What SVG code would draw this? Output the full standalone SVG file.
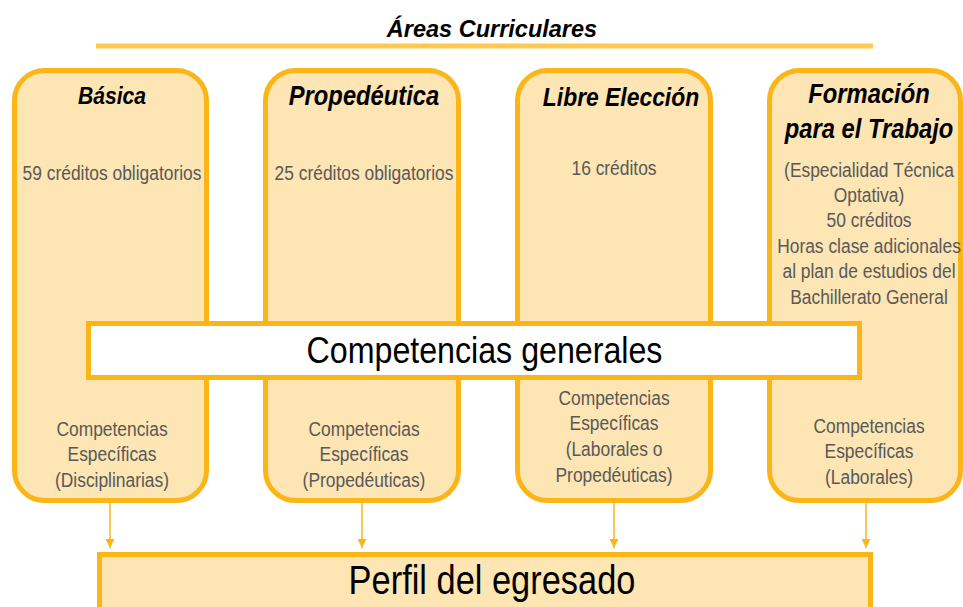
<svg xmlns="http://www.w3.org/2000/svg" width="963" height="607" viewBox="0 0 963 607">
<style>
.area{fill:#FDE5B4;stroke:#FCB517;stroke-width:5}
.gen{fill:#FFFFFF;stroke:#FCB517;stroke-width:5}
.head{font-family:"Liberation Sans",Arial,sans-serif;font-weight:bold;font-style:italic;fill:#000;text-anchor:middle}
.body{font-family:"Liberation Sans",Arial,sans-serif;font-size:20px;fill:#595959;text-anchor:middle}
.big{font-family:"Liberation Sans",Arial,sans-serif;fill:#000;text-anchor:middle}
.conn{stroke:#F9B51A;stroke-width:1.5;fill:none}
</style>
<defs>
<marker id="arr" viewBox="0 0 10 10" refX="10" refY="5" markerWidth="9" markerHeight="9" markerUnits="userSpaceOnUse" orient="auto">
<path d="M0,0 L10,5 L0,10 Z" fill="#F9B51A"/>
</marker>
</defs>
<g id="title">
<text class="head" x="492" y="37" font-size="23.5">Áreas Curriculares</text>
<line x1="96" y1="46" x2="873" y2="46" stroke="#FFC94F" stroke-width="5"/>
</g>
<g id="basica">
<rect class="area" x="14.5" y="70.5" width="192" height="430" rx="30"/>
<g transform="translate(112,0) scale(0.88,1)">
<text class="head" x="0" y="104" font-size="24">Básica</text>
</g>
<g transform="translate(112,0) scale(0.87,1)">
<text class="body" x="0" y="180">59 créditos obligatorios</text>
<text class="body" x="0" y="436">Competencias</text>
<text class="body" x="0" y="461">Específicas</text>
<text class="body" x="0" y="487">(Disciplinarias)</text>
</g>
</g>
<g id="propedeutica">
<rect class="area" x="265.5" y="70.5" width="193" height="430" rx="30"/>
<g transform="translate(364,0) scale(0.88,1)">
<text class="head" x="0" y="105" font-size="27">Propedéutica</text>
</g>
<g transform="translate(364,0) scale(0.87,1)">
<text class="body" x="0" y="180">25 créditos obligatorios</text>
<text class="body" x="0" y="436">Competencias</text>
<text class="body" x="0" y="461">Específicas</text>
<text class="body" x="0" y="487">(Propedéuticas)</text>
</g>
</g>
<g id="libre">
<rect class="area" x="517.5" y="70.5" width="193" height="430" rx="30"/>
<g transform="translate(621,0) scale(0.88,1)">
<text class="head" x="0" y="106" font-size="26">Libre Elección</text>
</g>
<g transform="translate(614,0) scale(0.87,1)">
<text class="body" x="0" y="175">16 créditos</text>
<text class="body" x="0" y="405">Competencias</text>
<text class="body" x="0" y="430">Específicas</text>
<text class="body" x="0" y="456">(Laborales o</text>
<text class="body" x="0" y="482">Propedéuticas)</text>
</g>
</g>
<g id="formacion">
<rect class="area" x="769.5" y="70.5" width="191" height="430" rx="30"/>
<g transform="translate(869,0) scale(0.88,1)">
<text class="head" x="0" y="103" font-size="27">Formación</text>
<text class="head" x="0" y="138" font-size="27">para el Trabajo</text>
</g>
<g transform="translate(869,0) scale(0.87,1)">
<text class="body" x="0" y="177">(Especialidad Técnica</text>
<text class="body" x="0" y="202">Optativa)</text>
<text class="body" x="0" y="227">50 créditos</text>
<text class="body" x="0" y="253">Horas clase adicionales</text>
<text class="body" x="0" y="278">al plan de estudios del</text>
<text class="body" x="0" y="304">Bachillerato General</text>
<text class="body" x="0" y="433">Competencias</text>
<text class="body" x="0" y="458">Específicas</text>
<text class="body" x="0" y="484">(Laborales)</text>
</g>
</g>
<g id="generales">
<rect class="gen" x="88.5" y="323.5" width="771" height="54"/>
<g transform="translate(484.5,0) scale(0.87,1)">
<text class="big" x="0" y="363" font-size="37">Competencias generales</text>
</g>
</g>
<g id="perfil">
<rect class="area" x="99.5" y="554.5" width="771" height="70"/>
<g transform="translate(492,0) scale(0.86,1)">
<text class="big" x="0" y="594" font-size="40">Perfil del egresado</text>
</g>
</g>
<g id="connectors">
<line class="conn" x1="110" y1="503" x2="110" y2="548" marker-end="url(#arr)"/>
<line class="conn" x1="362" y1="503" x2="362" y2="548" marker-end="url(#arr)"/>
<line class="conn" x1="614" y1="503" x2="614" y2="548" marker-end="url(#arr)"/>
<line class="conn" x1="866" y1="503" x2="866" y2="548" marker-end="url(#arr)"/>
</g>
</svg>
